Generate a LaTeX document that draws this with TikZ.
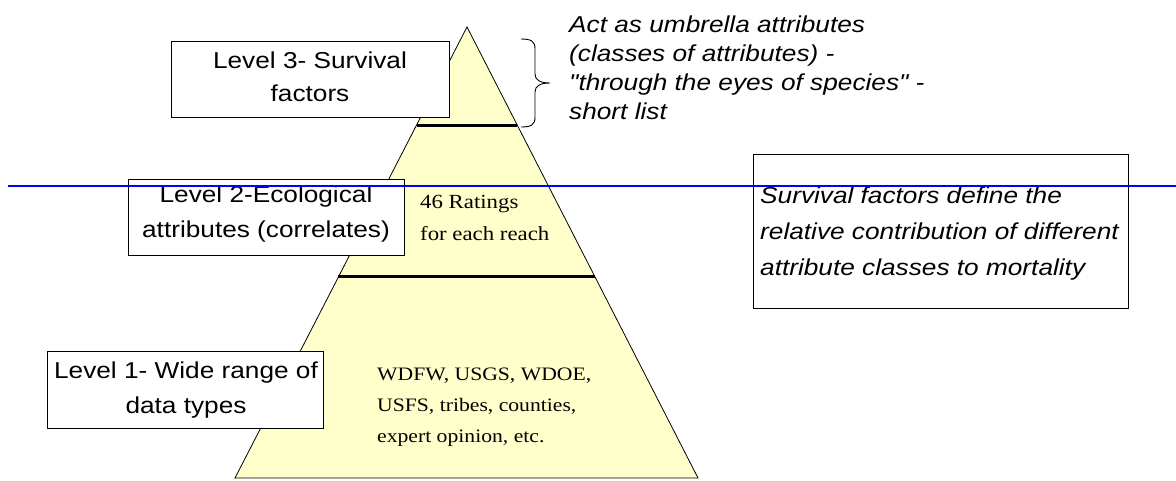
\documentclass[tikz,border=0pt]{standalone}
\usepackage{fontspec}
\usetikzlibrary{calc}
\setmainfont{Liberation Serif}[FakeStretch=1.14]
\newfontfamily\arialfont{Liberation Sans}[FakeStretch=1.14]
\newcommand\cstack[2]{\vtop{\baselineskip=#1\lineskiplimit=-100pt\lineskip=0pt\halign{\hfil##\hfil\cr#2\crcr}}}
\newcommand\lstack[2]{\vtop{\baselineskip=#1\lineskiplimit=-100pt\lineskip=0pt\halign{##\hfil\cr#2\crcr}}}
\definecolor{pyr}{RGB}{255,255,204}
\definecolor{rule}{RGB}{0,0,255}
\begin{document}
\begin{tikzpicture}[x=1pt,y=-1pt,
  lvlbox/.style={draw=black, line width=1.3pt, fill=white, inner sep=0pt, anchor=north west},
  sanstext/.style={font=\arialfont\fontsize{23}{28}\selectfont, inner sep=0pt},
  itext/.style={font=\arialfont\itshape\fontsize{23}{28}\selectfont, inner sep=0pt, anchor=base west},
  serif20/.style={font=\fontsize{20}{24}\selectfont, inner sep=0pt, anchor=base west},
  serif19/.style={font=\fontsize{19}{23}\selectfont, inner sep=0pt, anchor=base west},
  divider/.style={line width=3pt, black},
  bracestyle/.style={line width=0.9pt, black}]
\useasboundingbox (0,0) rectangle (1176,480);

% pyramid
\coordinate (apex) at (467,27);
\coordinate (bl) at (235,478);
\coordinate (br) at (698,478);
\filldraw[fill=pyr, draw=black, line width=0.8pt] (apex) -- (br) -- (bl) -- cycle;
\draw[divider] ($(apex)!0.2173!(bl)$) coordinate (d3l) -- ($(apex)!0.2173!(br)$) coordinate (d3r);
\draw[divider] ($(apex)!0.5543!(bl)$) coordinate (d2l) -- ($(apex)!0.5543!(br)$) coordinate (d2r);

% level boxes
\node[lvlbox, minimum width=278pt, minimum height=76pt] (l3box) at (171,41) {};
\node[sanstext, anchor=base] (l3text) at (310,68) {\cstack{33pt}{Level 3- Survival\cr factors}};

\node[lvlbox, minimum width=276pt, minimum height=76pt] (l2box) at (128,179) {};
\node[sanstext, anchor=base] (l2text) at (266,202) {\cstack{35pt}{Level 2-Ecological\cr attributes (correlates)}};

\node[lvlbox, minimum width=276pt, minimum height=77pt] (l1box) at (47,351) {};
\node[sanstext, anchor=base] (l1text) at (186,378) {\cstack{35pt}{Level 1- Wide range of\cr data types}};

% pyramid texts
\node[serif20] (ratings) at (420,208) {\lstack{32pt}{46 Ratings\cr for each reach}};
\node[serif19] (sources) at (377,380) {\lstack{31pt}{WDFW, USGS, WDOE,\cr USFS, tribes, counties,\cr expert opinion, etc.}};

% brace and umbrella text
\coordinate (bt) at (521,39);
\coordinate (bm) at (550,83);
\coordinate (bb) at (521,127);
\draw[bracestyle] (bt) .. controls (531,39) and (535,41) .. (535,49) -- (535,74)
  .. controls (535,80) and (540,83) .. (bm)
  .. controls (540,83) and (535,86) .. (535,92) -- (535,117)
  .. controls (535,125) and (531,127) .. (bb);
\node[itext] (umbrella) at (569,32) {\lstack{29.3pt}{Act as umbrella attributes\cr (classes of attributes) -\cr "through the eyes of species" -\cr short list}};

% right box
\node[lvlbox, minimum width=375pt, minimum height=154pt] (sfbox) at (753,154) {};
\node[itext] (sftext) at (760,203) {\lstack{36pt}{Survival factors define the\cr relative contribution of different\cr attribute classes to mortality}};

% blue rule
\coordinate (ruleL) at (8,186);
\coordinate (ruleR) at (1176,186);
\draw[rule, line width=2pt] (ruleL) -- (ruleR);
\end{tikzpicture}
\end{document}
